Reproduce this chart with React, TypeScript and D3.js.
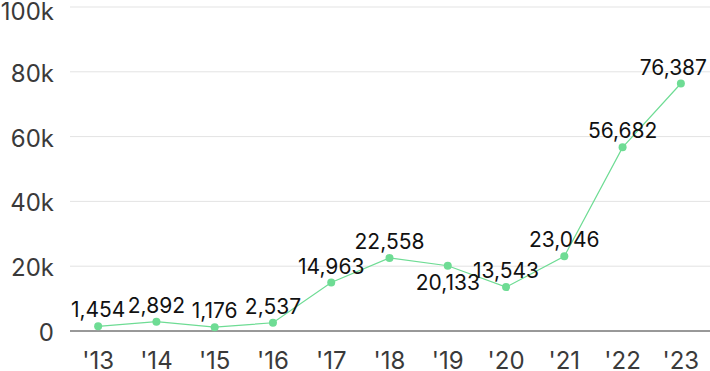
import React from "react";
import * as d3 from "d3";

const years = ["'13", "'14", "'15", "'16", "'17", "'18", "'19", "'20", "'21", "'22", "'23"];
const values = [1454, 2892, 1176, 2537, 14963, 22558, 20133, 13543, 23046, 56682, 76387];
const labelBelow = [false, false, false, false, false, false, true, false, false, false, false];
const yTicks = [0, 20000, 40000, 60000, 80000, 100000];

const W = 710;
const H = 371;
const left = 69;
const right = 710;
const top = 7;
const bottom = 331;
const labelSize = 21;

export default function App() {
  const x = d3.scaleBand<string>().domain(years).range([left, right]);
  const y = d3.scaleLinear().domain([0, 100000]).range([bottom, top]);
  const cx = (d: string) => (x(d) as number) + x.bandwidth() / 2;
  const line = d3
    .line<number>()
    .x((_, i) => cx(years[i]))
    .y((v) => y(v));
  const fmt = d3.format(",");
  const tickFmt = (v: number) => (v === 0 ? "0" : `${v / 1000}k`);
  const font = "Inter, 'DejaVu Sans', sans-serif";
  return (
    <svg width={W} height={H} style={{ position: "absolute", left: 0, top: 0 }} fontFamily={font}>
      {yTicks.map((t) =>
        t === 0 ? null : (
          <line key={"g" + t} x1={left + 1} x2={right} y1={y(t)} y2={y(t)} stroke="#e3e3e3" strokeWidth={1} />
        )
      )}
      <line x1={left + 1} x2={right} y1={y(0)} y2={y(0)} stroke="#333" strokeWidth={1} />
      {yTicks.map((t) => (
        <text key={"t" + t} x={54} y={Math.max(y(t) + 10, 20)} textAnchor="end" fontSize={24} fill="#3a3a3a">
          {tickFmt(t)}
        </text>
      ))}
      {years.map((yr) => (
        <text key={"x" + yr} x={cx(yr)} y={369} textAnchor="middle" fontSize={24} fill="#3a3a3a">
          {yr}
        </text>
      ))}
      <path d={line(values) || ""} fill="none" stroke="#6edc94" strokeWidth={1.2} />
      {values.map((v, i) => (
        <circle key={"c" + i} cx={cx(years[i])} cy={y(v)} r={4} fill="#6edc94" />
      ))}
      {values.map((v, i) => {
        const s = fmt(v);
        const est = s.length * 0.56 * labelSize;
        const px = cx(years[i]);
        const overflow = px + est / 2 > W - 3;
        return (
          <text
            key={"l" + i}
            x={overflow ? W - 3 : px}
            y={labelBelow[i] ? y(v) + 24 : y(v) - 9}
            textAnchor={overflow ? "end" : "middle"}
            fontSize={labelSize}
            fill="#111"
          >
            {s}
          </text>
        );
      })}
    </svg>
  );
}
